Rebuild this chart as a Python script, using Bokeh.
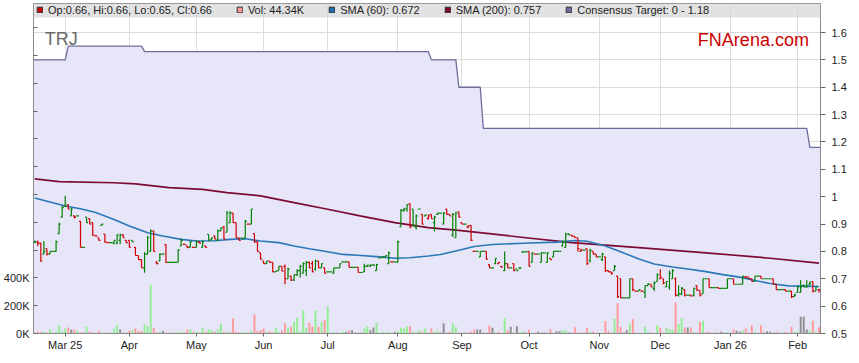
import numpy as np
import pandas as pd
from bokeh.plotting import figure
from bokeh.models import (Range1d, LinearAxis, FixedTicker, Legend, LegendItem,
                          BoxAnnotation, Label, ColumnDataSource)
from bokeh.embed import file_html
from bokeh.resources import INLINE

# ---------------- data ----------------
first_day = "2025-02-17"

opens = [
    .835, .835, .83, .79, .81, .79, .80, .80, .865, .925,
    .965, .97, .93, .93, .93, .91, .815, .925, .92, .905,
    .857, .85, .895, .863, .832, .832, .83, .83, .84, .86,
    .84, .84, .84, .815, .785, .77, .74, .79, .80, .875,
    .762, .765, .79, .825, .76, .76, .76, .76, .82, .826,
    .82, .815, .815, .815, .835, .815, .82, .862, .845, .857,
    .84, .875, .89, .87, .905, .94, .905, .85, .85, .85,
    .90, .90, .865, .835, .795, .765, .755, .765, .76, .725,
    .73, .745, .745, .70, .71, .695, .715, .73, .72, .73,
    .76, .755, .735, .765, .74, .74, .725, .725, .72, .74,
    .74, .762, .762, .762, .742, .742, .742, .723, .725, .745,
    .745, .75, .73, .776, .78, .78, .755, .762, .762, .76,
    .89, .95, .955, .975, .955, .89, .955, .935, .93, .92,
    .935, .905, .935, .94, .90, .955, .935, .86, .85, .945,
    .905, .90, .89, .895, .80, .80, .78, .80, .80, .752,
    .74, .755, .755, .745, .73, .755, .74, .755, .735, .74,
    .798, .798, .80, .76, .79, .79, .76, .795, .76, .775,
    .78, .80, .80, .82, .815, .865, .86, .855, .85, .80,
    .805, .81, .765, .80, .79, .78, .77, .78, .73, .725,
    .73, .71, .70, .63, .63, .63, .70, .655, .655, .655,
    .65, .675, .68, .665, .69, .70, .70, .67, .67, .70,
    .70, .64, .645, .66, .64, .64, .64, .675, .658, .645,
    .70, .70, .668, .668, .668, .665, .665, .665, .70, .70,
    .68, .68, .68, .705, .706, .70, .69, .71, .71, .70,
    .70, .70, .70, .68, .66, .66, .66, .655, .655, .635,
    .65, .65, .675, .67, .68, .69, .655, .66,
]
highs = [
    .84, .84, .832, .838, .81, .80, .80, .84, .905, .966,
    1.003, .972, .96, .93, .93, .911, .815, .925, .92, .905,
    .86, .85, .90, .863, .832, .832, .84, .863, .865, .863,
    .84, .84, .84, .815, .785, .77, .797, .857, .88, .875,
    .762, .792, .79, .826, .76, .76, .76, .808, .847, .826,
    .82, .838, .815, .84, .835, .84, .82, .862, .85, .857,
    .88, .887, .893, .948, .948, .94, .905, .85, .85, .915,
    .90, .955, .865, .835, .795, .765, .765, .765, .76, .728,
    .745, .745, .752, .74, .71, .715, .735, .75, .76, .765,
    .762, .765, .77, .765, .755, .74, .725, .725, .74, .74,
    .755, .762, .762, .762, .742, .742, .742, .723, .755, .75,
    .752, .752, .755, .776, .78, .785, .80, .762, .762, .84,
    .955, .96, .972, .975, .955, .935, .955, .935, .935, .935,
    .935, .93, .94, .94, .943, .955, .935, .94, .945, .945,
    .905, .90, .895, .895, .80, .80, .80, .80, .80, .752,
    .74, .775, .76, .745, .80, .755, .74, .755, .735, .74,
    .80, .798, .80, .797, .79, .79, .797, .795, .797, .775,
    .80, .80, .80, .84, .868, .865, .86, .855, .85, .81,
    .805, .81, .81, .80, .79, .78, .795, .78, .73, .725,
    .75, .71, .70, .63, .63, .70, .70, .655, .66, .655,
    .675, .685, .68, .69, .72, .735, .70, .69, .73, .735,
    .705, .675, .67, .66, .64, .64, .667, .675, .658, .70,
    .70, .70, .668, .668, .668, .665, .665, .70, .70, .70,
    .68, .68, .71, .71, .706, .70, .71, .71, .71, .70,
    .70, .70, .70, .68, .66, .66, .66, .655, .655, .645,
    .675, .695, .68, .695, .69, .69, .67, .66,
]
lows = [
    .83, .82, .762, .79, .785, .79, .80, .80, .865, .924,
    .963, .954, .93, .92, .93, .815, .815, .905, .90, .857,
    .857, .84, .895, .832, .832, .832, .826, .826, .826, .85,
    .83, .815, .835, .785, .77, .74, .722, .79, .80, .80,
    .753, .765, .79, .759, .76, .76, .76, .76, .82, .826,
    .812, .815, .815, .815, .83, .815, .815, .84, .84, .845,
    .84, .875, .845, .87, .905, .905, .85, .84, .845, .85,
    .90, .90, .832, .80, .77, .755, .755, .76, .725, .725,
    .73, .728, .68, .70, .692, .692, .71, .705, .72, .71,
    .74, .725, .73, .74, .74, .72, .725, .725, .72, .74,
    .74, .762, .762, .742, .742, .742, .723, .723, .725, .745,
    .745, .75, .73, .776, .775, .78, .755, .762, .762, .76,
    .89, .945, .945, .885, .89, .88, .955, .90, .93, .917,
    .92, .873, .935, .94, .90, .935, .93, .853, .85, .925,
    .90, .90, .885, .838, .80, .80, .78, .80, .77, .74,
    .74, .755, .755, .74, .728, .74, .74, .728, .73, .735,
    .795, .798, .745, .76, .79, .79, .76, .795, .76, .77,
    .78, .80, .80, .82, .815, .86, .855, .85, .80, .80,
    .805, .75, .76, .79, .78, .78, .765, .725, .725, .715,
    .73, .63, .63, .63, .63, .63, .655, .655, .655, .655,
    .63, .675, .67, .655, .69, .70, .68, .67, .66, .70,
    .635, .635, .64, .635, .64, .635, .635, .655, .635, .645,
    .70, .668, .668, .668, .665, .665, .665, .665, .70, .68,
    .68, .68, .68, .705, .70, .69, .69, .71, .70, .70,
    .70, .70, .68, .66, .66, .66, .655, .655, .63, .635,
    .65, .65, .67, .67, .675, .65, .655, .65,
]
closes = [
    .835, .83, .765, .80, .79, .80, .80, .835, .90, .96,
    .965, .955, .955, .925, .93, .815, .815, .905, .90, .86,
    .857, .84, .90, .835, .832, .832, .84, .86, .86, .85,
    .832, .815, .835, .785, .77, .74, .79, .85, .875, .80,
    .755, .79, .79, .76, .76, .76, .76, .805, .84, .826,
    .815, .835, .815, .835, .83, .835, .815, .84, .85, .845,
    .875, .885, .845, .94, .94, .905, .85, .84, .845, .91,
    .90, .955, .835, .80, .772, .755, .765, .76, .725, .728,
    .745, .728, .70, .735, .695, .715, .73, .745, .755, .76,
    .74, .725, .765, .74, .755, .72, .725, .725, .74, .74,
    .755, .762, .762, .742, .742, .742, .723, .723, .745, .75,
    .75, .75, .752, .776, .78, .785, .795, .762, .762, .835,
    .95, .955, .97, .89, .895, .93, .955, .90, .933, .93,
    .92, .925, .94, .94, .94, .935, .93, .935, .94, .925,
    .90, .90, .893, .84, .80, .80, .80, .80, .772, .74,
    .74, .775, .76, .743, .755, .74, .74, .73, .73, .74,
    .798, .798, .745, .795, .79, .79, .795, .795, .795, .77,
    .80, .80, .80, .835, .86, .86, .855, .85, .81, .805,
    .805, .755, .805, .79, .78, .78, .79, .73, .725, .72,
    .745, .635, .63, .63, .63, .70, .66, .655, .66, .655,
    .675, .68, .67, .685, .715, .705, .685, .69, .72, .73,
    .64, .645, .665, .64, .64, .637, .665, .658, .64, .70,
    .70, .668, .668, .668, .665, .665, .665, .70, .70, .68,
    .68, .68, .71, .706, .70, .69, .71, .71, .70, .70,
    .70, .70, .68, .66, .66, .66, .655, .655, .635, .64,
    .67, .67, .67, .67, .685, .655, .67, .66,
]
volumes_k = [
    5, 12, 10, 10, 8, 29, 5, 12, 60, 17,
    36, 44, 29, 29, 20, 8, 8, 48, 15, 8,
    5, 20, 8, 5, 8, 5, 36, 60, 29, 5,
    8, 20, 24, 36, 17, 17, 68, 53, 351, 41,
    8, 12, 20, 8, 5, 5, 5, 10, 12, 8,
    29, 29, 12, 12, 8, 41, 12, 31, 24, 12,
    31, 70, 12, 12, 8, 109, 12, 8, 12, 8,
    8, 20, 138, 17, 24, 36, 12, 17, 8, 41,
    12, 24, 73, 41, 48, 85, 114, 17, 165, 41,
    77, 48, 165, 48, 85, 97, 194, 5, 12, 5,
    8, 12, 12, 24, 24, 8, 8, 5, 36, 48,
    24, 44, 77, 8, 12, 5, 12, 5, 12, 17,
    41, 36, 48, 53, 12, 8, 24, 12, 36, 8,
    36, 12, 20, 8, 73, 8, 12, 73, 48, 8,
    5, 5, 8, 12, 29, 29, 29, 5, 8, 56,
    41, 8, 12, 5, 109, 24, 48, 8, 53, 8,
    17, 5, 29, 5, 5, 12, 8, 8, 5, 31,
    5, 17, 17, 24, 24, 8, 5, 45, 8, 8,
    5, 41, 12, 12, 5, 5, 5, 90, 17, 5,
    104, 218, 48, 8, 24, 73, 102, 8, 5, 5,
    48, 12, 8, 5, 60, 41, 8, 41, 29, 29,
    223, 68, 114, 44, 44, 44, 12, 5, 85, 92,
    8, 12, 5, 8, 5, 12, 5, 12, 5, 29,
    20, 12, 24, 36, 8, 60, 12, 5, 60, 8,
    17, 12, 5, 12, 5, 5, 12, 5, 48, 12,
    12, 121, 121, 29, 20, 92, 12, 44.34,
]

sma60_idx = [0, 10, 15, 20, 26, 31, 37, 42, 48, 53,
             59, 64, 69, 74, 80, 85, 90, 96, 101, 107,
             112, 118, 123, 129, 133, 139, 144, 150, 160, 171,
             177, 181, 187, 192, 198, 203, 209, 214, 220, 225,
             231, 236, 241, 247, 252, 257]
sma60_val = [.995, .966, .956, .942, .917, .893, .868, .856, .844, .838,
             .839, .844, .846, .838, .832, .82, .81, .799, .789, .785,
             .781, .775, .777, .783, .789, .804, .818, .825, .83, .834,
             .84, .837, .82, .799, .772, .754, .743, .736, .726, .716,
             .706, .694, .683, .674, .673, .672]
sma200_idx = [0, 8, 26, 33, 44, 55, 63, 74, 85, 96,
              107, 118, 129, 139, 161, 176, 198, 220, 241, 257]
sma200_val = [1.065, 1.055, 1.051, 1.047, 1.033, 1.027, 1.015, 1.003, .978, .954,
              .929, .905, .887, .877, .85, .832, .814, .795, .775, .757]

target_start_idx = [0, 11, 36, 130, 139, 147, 254]
target_values = [1.50, 1.55, 1.53, 1.50, 1.40, 1.25, 1.18]

price_ticks = [0.5, 0.6, 0.7, 0.8, 0.9, 1.0, 1.1, 1.2, 1.3, 1.4, 1.5, 1.6]
volume_ticks_k = [0, 200, 400, 600, 800, 1000, 1200, 1400, 1600, 1800, 2000, 2200]
volume_tick_labels = ["0K", "200K", "400K"]
month_labels = ["Mar 25", "Apr", "May", "Jun", "Jul", "Aug", "Sep", "Oct",
                "Nov", "Dec", "Jan 26", "Feb"]

# ---------------- derived helpers ----------------
N = len(closes)
idx = np.arange(N)
dates = pd.bdate_range(first_day, periods=N)
month_start_idx = [int(i) for i in range(1, N) if dates[i].month != dates[i - 1].month]

prev_close = [opens[0]] + closes[:-1]
price_col = ["#008000" if c >= pc else "#d00000" for c, pc in zip(closes, prev_close)]
vol_col = ["#90ee90" if c > pc else ("#ff9999" if c < pc else "#8c8c8c")
           for c, pc in zip(closes, prev_close)]

FONT = "Liberation Sans"
y_lo, y_hi = 0.5, 1.706

p = figure(width=859, height=363, output_backend="svg", toolbar_location=None,
           x_range=Range1d(-0.4, N - 0.5), y_range=Range1d(y_lo, y_hi),
           y_axis_location="right",
           min_border_left=31, min_border_right=39, min_border_top=3, min_border_bottom=30,
           background_fill_color="white", border_fill_color="white")
p.extra_y_ranges = {"vol": Range1d(0, 2374)}
p.outline_line_color = "#8a8a8a"

# price axis (right)
yax = p.yaxis[0]
yax.ticker = FixedTicker(ticks=price_ticks)
yax.major_tick_out = 5
yax.major_tick_in = 0
yax.major_label_standoff = 6

# volume axis (left)
vax = LinearAxis(y_range_name="vol", ticker=FixedTicker(ticks=volume_ticks_k))
vax.major_label_overrides = {t: (volume_tick_labels[k] if k < len(volume_tick_labels) else "")
                             for k, t in enumerate(volume_ticks_k)}
vax.major_tick_out = 0
vax.major_tick_in = 4
vax.major_label_standoff = 4
p.add_layout(vax, "left")

# time axis
xax = p.xaxis[0]
xax.ticker = FixedTicker(ticks=month_start_idx)
xax.major_label_overrides = {i: lab for i, lab in zip(month_start_idx, month_labels)}
xax.major_tick_out = 3
xax.major_tick_in = 0
xax.major_label_standoff = 2

for ax in (xax, yax, vax):
    ax.axis_line_color = "#8a8a8a"
    ax.major_tick_line_color = "#666666"
    ax.minor_tick_line_color = None
    ax.major_label_text_font = FONT
    ax.major_label_text_font_size = "11px"
    ax.major_label_text_color = "#222222"

p.xgrid.ticker = FixedTicker(ticks=month_start_idx)
p.ygrid.ticker = FixedTicker(ticks=price_ticks)
p.xgrid.grid_line_color = "#dcdcdc"
p.ygrid.grid_line_color = "#dcdcdc"

# consensus target: step line + lavender area below
tx, ty = [p.x_range.start], [target_values[0]]
for k, (s, v) in enumerate(zip(target_start_idx, target_values)):
    e = target_start_idx[k + 1] - 1 if k + 1 < len(target_start_idx) else N - 1
    tx += [s, e]
    ty += [v, v]
tx.append(p.x_range.end)
ty.append(target_values[-1])
p.varea(x=tx, y1=[y_lo] * len(tx), y2=ty, fill_color="#e6e6f8", fill_alpha=1.0)
p.line(tx, ty, line_color="#6c6c9e", line_width=1.3)

# volume bars
vsrc = ColumnDataSource(dict(x=idx, v=volumes_k, c=vol_col))
p.vbar(x="x", top="v", bottom=0, width=0.62, source=vsrc, y_range_name="vol",
       fill_color="c", line_color=None)

# moving averages
p.line(sma200_idx, sma200_val, line_color="#7d0a34", line_width=1.7)
p.line(sma60_idx, sma60_val, line_color="#2a78b8", line_width=1.6)

# OHLC bars
src = ColumnDataSource(dict(x=idx, xl=idx - 0.5, xr=idx + 0.5, o=opens, h=highs,
                            l=lows, c=closes, col=price_col))
p.segment(x0="x", y0="l", x1="x", y1="h", line_color="col", line_width=1.2, source=src)
p.segment(x0="xl", y0="o", x1="x", y1="o", line_color="col", line_width=1.2, source=src)
p.segment(x0="x", y0="c", x1="xr", y1="c", line_color="col", line_width=1.2, source=src)

# watermark texts
p.add_layout(Label(x=3.3, y=1.576, text="TRJ", text_font=FONT, text_font_size="18px",
                   text_color="#6b6b6b", text_baseline="alphabetic"))
p.add_layout(Label(x=253.7, y=1.573, text="FNArena.com", text_font=FONT,
                   text_font_size="18px", text_color="#cc0000", text_align="right",
                   text_baseline="alphabetic"))

# legend bar
frame_h = 363 - 3 - 30
p.add_layout(BoxAnnotation(bottom=y_hi - 14 * (y_hi - y_lo) / frame_h,
                           fill_color="#d6d6d6", fill_alpha=0.7, line_color=None))

legend_labels = [
    f"Op:{opens[-1]:.2f}, Hi:{highs[-1]:.2f}, Lo:{lows[-1]:.2f}, Cl:{closes[-1]:.2f}",
    f"Vol: {volumes_k[-1]:.2f}K",
    f"SMA (60): {sma60_val[-1]:.3f}",
    f"SMA (200): {sma200_val[-1]:.3f}",
    f"Consensus Target: 0 - {target_values[-1]:.2f}",
]
legend_colors = ["#cc0000", "#ff9999", "#1c6cb0", "#800030", "#6c6c9c"]
items = []
nan = float("nan")
for lab, col in zip(legend_labels, legend_colors):
    r = p.quad(left=[nan], right=[nan], top=[nan], bottom=[nan], fill_color=col,
               line_color="#333333", line_width=1)
    items.append(LegendItem(label=lab, renderers=[r]))
leg = Legend(items=items, orientation="horizontal", location=(3, frame_h - 13),
             glyph_width=7, glyph_height=7, label_standoff=5, spacing=24,
             padding=0, margin=0, label_height=13,
             label_text_font=FONT, label_text_font_size="11px",
             label_text_color="#222222", background_fill_alpha=0,
             border_line_alpha=0)
p.add_layout(leg)

open("out.html", "w").write(file_html(p, INLINE))
